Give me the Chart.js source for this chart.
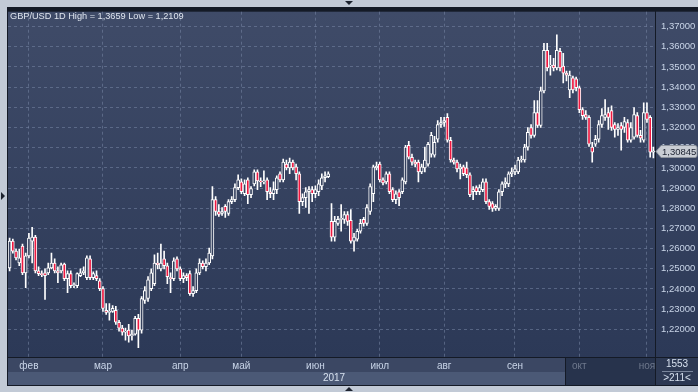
<!DOCTYPE html>
<html>
<head>
<meta charset="utf-8">
<style>
  html, body { margin: 0; padding: 0; background: #c2cad6; overflow: hidden; }
  canvas { display: block; }
</style>
</head>
<body>
<canvas id="fxChart" width="698" height="392"></canvas>
<script src="https://cdn.jsdelivr.net/npm/chart.js"></script>
<script>
  // GBP/USD daily candles, late Jan .. early Nov 2017
  const monthNames = ['фев', 'мар', 'апр', 'май', 'июн', 'июл', 'авг', 'сен', 'окт', 'ноя']
  const monthAt = [6, 29, 53, 72, 95, 115, 135, 157, 177, 198]
  const yTicks = [1.22, 1.23, 1.24, 1.25, 1.26, 1.27, 1.28, 1.29, 1.30, 1.31, 1.32, 1.33, 1.34, 1.35, 1.36, 1.37]

  const open = [
    1.2505,1.2637,1.2588,1.2529,1.2613,1.2480,1.2564,1.2637,1.2657,1.2490,
    1.2476,1.2480,1.2480,1.2505,1.2529,1.2490,1.2490,1.2524,1.2451,1.2476,
    1.2417,1.2417,1.2466,1.2480,1.2456,1.2549,1.2456,1.2466,1.2441,1.2402,
    1.2294,1.2284,1.2289,1.2294,1.2235,1.2206,1.2186,1.2196,1.2167,1.2176,
    1.2255,1.2196,1.2343,1.2353,1.2402,1.2426,1.2529,1.2500,1.2549,1.2515,
    1.2456,1.2451,1.2549,1.2500,1.2451,1.2466,1.2476,1.2377,1.2392,1.2480,
    1.2529,1.2510,1.2529,1.2564,1.2843,1.2784,1.2774,1.2809,1.2774,1.2833,
    1.2843,1.2902,1.2931,1.2872,1.2941,1.2867,1.2921,1.2980,1.2936,1.2931,
    1.2941,1.2882,1.2872,1.2892,1.2971,1.2941,1.3019,1.3000,1.3029,1.3005,
    1.2971,1.2833,1.2853,1.2882,1.2892,1.2872,1.2882,1.2911,1.2951,1.2956,
    1.2735,1.2657,1.2725,1.2745,1.2745,1.2769,1.2740,1.2637,1.2647,1.2686,
    1.2745,1.2725,1.2784,1.2872,1.3000,1.3019,1.2941,1.2931,1.2971,1.2892,
    1.2843,1.2882,1.2882,1.2931,1.3112,1.3053,1.3029,1.3029,1.2980,1.3000,
    1.3019,1.3068,1.3063,1.3142,1.3215,1.3225,1.3250,1.3137,1.3039,1.3029,
    1.2995,1.3005,1.3000,1.2966,1.2882,1.2902,1.2882,1.2892,1.2931,1.2833,
    1.2823,1.2799,1.2799,1.2882,1.2921,1.2921,1.2971,1.2980,1.2980,1.3039,
    1.3039,1.3103,1.3200,1.3161,1.3274,1.3210,1.3382,1.3583,1.3504,1.3509,
    1.3495,1.3578,1.3504,1.3470,1.3387,1.3446,1.3441,1.3397,1.3289,1.3264,
    1.3250,1.3103,1.3117,1.3142,1.3215,1.3250,1.3274,1.3284,1.3215,1.3191,
    1.3210,1.3200,1.3225,1.3137,1.3152,1.3259,1.3161,1.3137,1.3274,1.3250,
    1.3078
  ]
  const high = [
    1.2652,1.2647,1.2598,1.2598,1.2622,1.2578,1.2676,1.2706,1.2666,1.2510,
    1.2490,1.2500,1.2529,1.2578,1.2549,1.2510,1.2529,1.2529,1.2490,1.2490,
    1.2431,1.2480,1.2500,1.2510,1.2564,1.2564,1.2485,1.2490,1.2451,1.2412,
    1.2328,1.2328,1.2318,1.2314,1.2245,1.2220,1.2206,1.2225,1.2196,1.2265,
    1.2274,1.2363,1.2412,1.2461,1.2500,1.2569,1.2578,1.2622,1.2588,1.2529,
    1.2480,1.2554,1.2559,1.2510,1.2480,1.2476,1.2490,1.2412,1.2500,1.2549,
    1.2539,1.2549,1.2603,1.2907,1.2858,1.2818,1.2804,1.2818,1.2843,1.2858,
    1.2921,1.2966,1.2946,1.2941,1.2951,1.2907,1.2990,1.2990,1.2951,1.2985,
    1.2951,1.2902,1.2931,1.2961,1.2980,1.3044,1.3039,1.3049,1.3039,1.3019,
    1.2980,1.2872,1.2902,1.2907,1.2907,1.2911,1.2941,1.2971,1.2980,1.2980,
    1.2823,1.2760,1.2760,1.2818,1.2784,1.2784,1.2794,1.2676,1.2696,1.2745,
    1.2755,1.2818,1.2921,1.3014,1.3029,1.3029,1.2951,1.2980,1.2980,1.2902,
    1.2887,1.2892,1.2951,1.3112,1.3132,1.3068,1.3039,1.3039,1.3019,1.3103,
    1.3127,1.3176,1.3156,1.3235,1.3250,1.3250,1.3269,1.3152,1.3049,1.3039,
    1.3019,1.3014,1.3029,1.2975,1.2907,1.2911,1.2916,1.2946,1.2946,1.2843,
    1.2833,1.2818,1.2892,1.2931,1.2951,1.2980,1.3000,1.3014,1.3053,1.3058,
    1.3117,1.3200,1.3215,1.3333,1.3333,1.3401,1.3617,1.3617,1.3558,1.3543,
    1.3659,1.3593,1.3568,1.3480,1.3480,1.3455,1.3450,1.3406,1.3299,1.3284,
    1.3259,1.3127,1.3161,1.3235,1.3294,1.3338,1.3299,1.3308,1.3225,1.3220,
    1.3225,1.3250,1.3240,1.3225,1.3299,1.3274,1.3186,1.3323,1.3323,1.3259,
    1.3103
  ]
  const low = [
    1.2490,1.2578,1.2544,1.2515,1.2471,1.2407,1.2554,1.2529,1.2480,1.2466,
    1.2461,1.2348,1.2471,1.2500,1.2480,1.2431,1.2480,1.2441,1.2382,1.2407,
    1.2407,1.2407,1.2461,1.2471,1.2446,1.2446,1.2446,1.2441,1.2392,1.2289,
    1.2274,1.2245,1.2284,1.2225,1.2191,1.2171,1.2147,1.2137,1.2147,1.2171,
    1.2109,1.2181,1.2328,1.2338,1.2392,1.2417,1.2500,1.2490,1.2500,1.2426,
    1.2382,1.2441,1.2490,1.2441,1.2431,1.2441,1.2368,1.2363,1.2382,1.2471,
    1.2500,1.2490,1.2520,1.2549,1.2764,1.2760,1.2764,1.2755,1.2764,1.2823,
    1.2833,1.2892,1.2872,1.2862,1.2823,1.2853,1.2911,1.2892,1.2907,1.2921,
    1.2843,1.2853,1.2843,1.2872,1.2931,1.2931,1.2990,1.2971,1.2990,1.2941,
    1.2774,1.2813,1.2804,1.2774,1.2833,1.2853,1.2862,1.2892,1.2931,1.2951,
    1.2637,1.2637,1.2715,1.2686,1.2725,1.2715,1.2627,1.2588,1.2637,1.2676,
    1.2711,1.2715,1.2769,1.2833,1.2990,1.2931,1.2916,1.2921,1.2872,1.2833,
    1.2823,1.2813,1.2872,1.2921,1.3044,1.3014,1.3005,1.2931,1.2971,1.2980,
    1.3009,1.3053,1.3053,1.3127,1.3200,1.3205,1.3127,1.3029,1.3019,1.2980,
    1.2946,1.2961,1.2951,1.2858,1.2843,1.2867,1.2867,1.2882,1.2823,1.2794,
    1.2784,1.2789,1.2789,1.2862,1.2902,1.2907,1.2956,1.2966,1.2971,1.3029,
    1.3029,1.3088,1.3147,1.3152,1.3200,1.3200,1.3372,1.3480,1.3460,1.3480,
    1.3485,1.3480,1.3421,1.3431,1.3348,1.3372,1.3382,1.3274,1.3240,1.3240,
    1.3107,1.3029,1.3107,1.3127,1.3200,1.3235,1.3191,1.3186,1.3152,1.3161,
    1.3088,1.3176,1.3127,1.3127,1.3142,1.3152,1.3127,1.3127,1.3225,1.3053,
    1.3049
  ]
  const close = [
    1.2637,1.2588,1.2554,1.2554,1.2480,1.2564,1.2652,1.2657,1.2490,1.2476,
    1.2471,1.2466,1.2505,1.2529,1.2490,1.2480,1.2520,1.2451,1.2476,1.2417,
    1.2419,1.2476,1.2480,1.2490,1.2554,1.2456,1.2476,1.2451,1.2402,1.2304,
    1.2284,1.2289,1.2304,1.2235,1.2206,1.2186,1.2191,1.2167,1.2176,1.2255,
    1.2196,1.2353,1.2392,1.2446,1.2480,1.2529,1.2520,1.2529,1.2515,1.2461,
    1.2451,1.2539,1.2500,1.2451,1.2466,1.2456,1.2377,1.2392,1.2480,1.2529,
    1.2510,1.2529,1.2578,1.2843,1.2784,1.2769,1.2784,1.2784,1.2833,1.2843,
    1.2902,1.2941,1.2882,1.2921,1.2867,1.2897,1.2980,1.2936,1.2931,1.2936,
    1.2882,1.2872,1.2892,1.2951,1.2941,1.3029,1.3000,1.3029,1.3000,1.2971,
    1.2833,1.2853,1.2882,1.2892,1.2872,1.2892,1.2921,1.2951,1.2961,1.2971,
    1.2657,1.2735,1.2745,1.2747,1.2769,1.2735,1.2637,1.2657,1.2686,1.2725,
    1.2725,1.2804,1.2907,1.3005,1.3009,1.2941,1.2926,1.2971,1.2882,1.2843,
    1.2872,1.2853,1.2941,1.3103,1.3053,1.3029,1.3019,1.2980,1.3005,1.3039,
    1.3117,1.3161,1.3127,1.3215,1.3225,1.3235,1.3137,1.3039,1.3029,1.2995,
    1.3005,1.2971,1.2966,1.2867,1.2892,1.2882,1.2902,1.2931,1.2833,1.2809,
    1.2799,1.2809,1.2882,1.2921,1.2931,1.2971,1.2980,1.2995,1.3039,1.3044,
    1.3103,1.3176,1.3161,1.3274,1.3210,1.3382,1.3583,1.3495,1.3509,1.3495,
    1.3583,1.3495,1.3470,1.3460,1.3460,1.3387,1.3397,1.3289,1.3259,1.3250,
    1.3117,1.3078,1.3142,1.3215,1.3259,1.3264,1.3250,1.3200,1.3191,1.3200,
    1.3191,1.3230,1.3137,1.3200,1.3264,1.3161,1.3147,1.3274,1.3240,1.3078,
    1.30845
  ]

  const labels = open.map(() => '')
  monthAt.forEach((idx, k) => { labels[idx] = monthNames[k] })
  const dimFrom = monthAt[8] // окт / ноя are greyed out

  const fmt = v => v.toFixed(5).replace('.', ',')
  const panelGrad = (ctx, top, bottom) => {
    const g = ctx.createLinearGradient(0, top, 0, bottom)
    g.addColorStop(0, '#3f4b68')
    g.addColorStop(1, '#2c3957')
    return g
  }

  const frame = {
    id: 'frame',
    beforeDraw(chart) {
      const ctx = chart.ctx
      const a = chart.chartArea
      ctx.save()
      ctx.fillStyle = '#c2cad6'
      ctx.fillRect(0, 0, 698, 392)
      ctx.fillStyle = '#141a26'
      ctx.fillRect(7, 7, 691, 379)
      ctx.fillStyle = panelGrad(ctx, a.top, a.bottom)
      ctx.fillRect(a.left, a.top, a.right - a.left, a.bottom - a.top)
      ctx.fillRect(a.right + 1, a.top, 698 - a.right - 1, a.bottom - a.top)
      // month row / year row
      ctx.fillStyle = '#3b4763'
      ctx.fillRect(a.left, a.bottom + 1, 565 - a.left, 14)
      ctx.fillStyle = '#4b5976'
      ctx.fillRect(a.left, a.bottom + 15, 565 - a.left, 13)
      ctx.fillStyle = '#27334c'
      ctx.fillRect(566, a.bottom + 1, a.right - 566, 27)
      ctx.fillStyle = '#2d3953'
      ctx.fillRect(a.right + 1, a.bottom + 1, 698 - a.right - 1, 27)
      // little scroll arrows on the outer frame
      ctx.fillStyle = '#1c222e'
      ctx.beginPath(); ctx.moveTo(345, 1); ctx.lineTo(353, 1); ctx.lineTo(349, 5); ctx.fill()
      ctx.beginPath(); ctx.moveTo(1, 192); ctx.lineTo(5, 196); ctx.lineTo(1, 200); ctx.fill()
      ctx.beginPath(); ctx.moveTo(345, 391); ctx.lineTo(353, 391); ctx.lineTo(349, 387); ctx.fill()
      ctx.restore()
    },
    afterDraw(chart) {
      const ctx = chart.ctx
      const a = chart.chartArea
      ctx.save()
      ctx.textBaseline = 'middle'
      ctx.font = '9.2px "Liberation Sans", Arial, sans-serif'
      ctx.fillStyle = '#dfe5ef'
      ctx.textAlign = 'left'
      ctx.fillText('GBP/USD 1D High = 1,3659 Low = 1,2109', 10, 16)

      ctx.font = '10px "Liberation Sans", Arial, sans-serif'
      ctx.textAlign = 'center'
      ctx.fillStyle = '#d6e0ee'
      ctx.fillText('2017', 334, 378)
      ctx.fillText('1553', 677, 364)
      ctx.fillText('>211<', 677, 378)
      ctx.strokeStyle = '#7a869c'
      ctx.lineWidth = 1
      ctx.beginPath(); ctx.moveTo(662, 371.5); ctx.lineTo(693, 371.5); ctx.stroke()

      // last price tag
      const last = close[close.length - 1]
      const y = Math.round(chart.scales.y.getPixelForValue(last)) + 0.5
      ctx.beginPath()
      ctx.moveTo(a.right + 1, y)
      ctx.lineTo(a.right + 6, y - 6)
      ctx.lineTo(695, y - 6)
      ctx.quadraticCurveTo(697, y - 6, 697, y - 4)
      ctx.lineTo(697, y + 4)
      ctx.quadraticCurveTo(697, y + 6, 695, y + 6)
      ctx.lineTo(a.right + 6, y + 6)
      ctx.closePath()
      ctx.fillStyle = '#c9cdd4'
      ctx.fill()
      ctx.strokeStyle = '#8d939d'
      ctx.stroke()
      ctx.fillStyle = '#1b2130'
      ctx.textAlign = 'left'
      ctx.font = '9.5px "Liberation Sans", Arial, sans-serif'
      ctx.fillText(fmt(last), a.right + 7, y + 0.5)
      ctx.restore()
    }
  }

  const bodies = open.map((o, i) => [o, close[i]])
  const wicks = low.map((l, i) => [l, high[i]])
  const bodyFill = open.map((o, i) => close[i] < o ? '#ee1840' : '#35415e')

  new Chart(document.getElementById('fxChart'), {
    type: 'bar',
    data: {
      labels,
      datasets: [{
        data: bodies,
        backgroundColor: bodyFill,
        borderColor: '#ffffff',
        borderWidth: 1,
        borderSkipped: false,
        barThickness: 3,
        minBarLength: 1,
        grouped: false
      }, {
        data: wicks,
        backgroundColor: '#ffffff',
        borderWidth: 0,
        barThickness: 1,
        grouped: false
      }]
    },
    options: {
      responsive: false,
      devicePixelRatio: 1,
      animation: false,
      layout: { padding: { left: 8, top: 8, right: 0, bottom: 0 } },
      plugins: {
        legend: { display: false },
        tooltip: { enabled: false }
      },
      scales: {
        x: {
          offset: true,
          grid: {
            offset: false,
            drawTicks: false,
            color: c => labels[c.index] ? 'rgba(120,135,165,0.55)' : 'transparent'
          },
          border: { display: false, dash: [3, 3] },
          ticks: {
            autoSkip: false,
            maxRotation: 0,
            padding: 3,
            color: c => c.index >= dimFrom ? '#6e788c' : '#c9d5e8',
            font: { family: '"Liberation Sans", Arial, sans-serif', size: 10 }
          },
          afterFit: s => { s.height = 35 }
        },
        y: {
          position: 'right',
          min: 1.2063,
          max: 1.3774,
          afterBuildTicks: s => { s.ticks = yTicks.map(v => ({ value: v })) },
          grid: { drawTicks: false, color: 'rgba(120,135,165,0.55)' },
          border: { display: false, dash: [3, 3] },
          ticks: {
            padding: 6,
            color: '#c9d5e8',
            font: { family: '"Liberation Sans", Arial, sans-serif', size: 9.5 },
            callback: v => fmt(v)
          },
          afterFit: s => { s.width = 43 }
        }
      }
    },
    plugins: [frame]
  });
</script>
</body>
</html>
